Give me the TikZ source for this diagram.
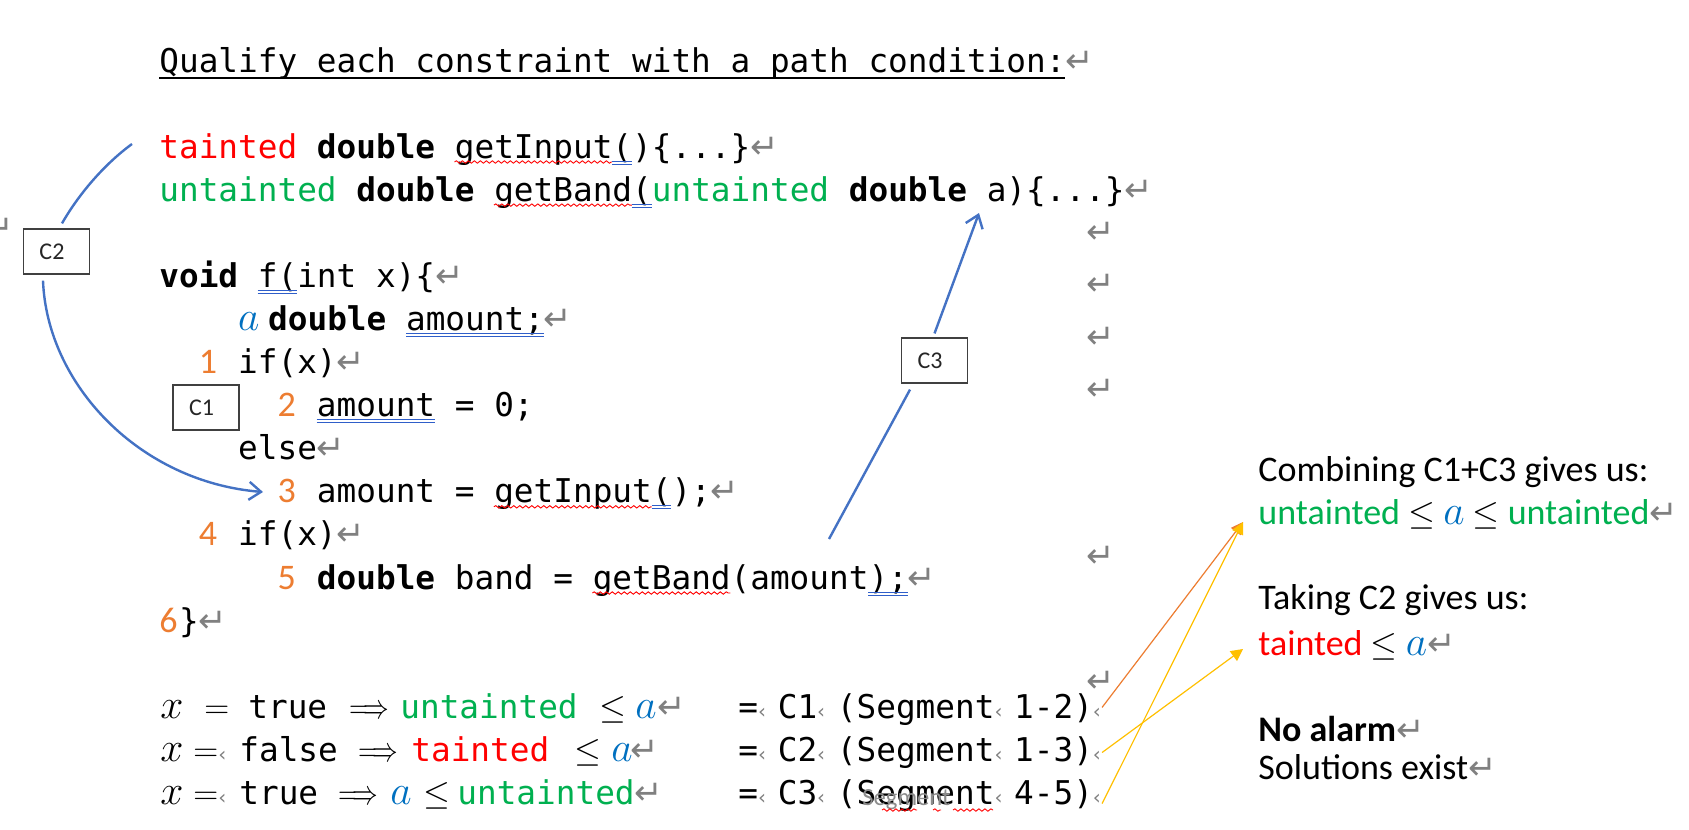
\documentclass[tikz,border=0pt]{standalone}
\usepackage{fontspec}
\usepackage{graphicx}
\usetikzlibrary{arrows.meta, calc, positioning, decorations.pathmorphing}
\setmonofont{DejaVu Sans Mono}
\newfontfamily\calfont{Carlito}
\newfontfamily\symfont{DejaVu Sans}

\definecolor{tred}{HTML}{FF0000}
\definecolor{ugreen}{HTML}{00B050}
\definecolor{varblue}{HTML}{0070C0}
\definecolor{numorange}{HTML}{ED7D31}
\definecolor{linkblue}{HTML}{4472C4}
\definecolor{hintyellow}{HTML}{FFC000}
\definecolor{markgray}{HTML}{808080}
\definecolor{gramblue}{HTML}{2F5EC9}

\newlength\colw \setlength\colw{9.849pt}
\newlength\pxu \setlength\pxu{0.5pt}
\newcommand\codefont{\ttfamily\fontsize{16.36pt}{20pt}\selectfont}
\newcommand\retmark{{\color{markgray}\symfont\fontsize{17pt}{17pt}\selectfont ↵}}
\newcommand\spm{\makebox[\colw][l]{\color{markgray}\symfont\fontsize{10pt}{10pt}\selectfont ‹}}
\newcommand\lnum[1]{\makebox[\colw][l]{\color{numorange}\calfont\fontsize{18pt}{18pt}\selectfont #1}}
\newcommand\ind[1]{\hspace*{#1\colw}}
\newcommand\putat[2]{\rlap{\hspace*{#1\pxu}#2}}
\newcommand\impl{\scalebox{0.74}[1]{$\Longrightarrow$}}
\newcommand\va{{\color{varblue}\fontsize{20.74pt}{20pt}\selectfont$a$}}
\newcommand\vx{{\fontsize{20.74pt}{20pt}\selectfont$x$}}
\newcommand\wavy[3]{\draw[squig] ({159+19.7*#1},{#3+4}) -- ({159+19.7*#2},{#3+4});}
\newcommand\dblu[3]{\draw[gramline] ({159+19.7*#1},{#3+3}) -- ({159+19.7*#2},{#3+3}) ({159+19.7*#1},{#3+6}) -- ({159+19.7*#2},{#3+6});}

\tikzset{
  code/.style={anchor=base west, inner sep=0pt, font=\codefont},
  rtext/.style={anchor=base west, inner sep=0pt, font=\calfont\fontsize{18pt}{20pt}\selectfont},
  cbox/.style={draw=black!75, line width=0.6pt, fill=white, minimum height=22.5pt,
    text width=17pt, inner xsep=8pt, inner ysep=0pt, align=left,
    font=\calfont\fontsize{12pt}{12pt}\selectfont, text=black!85},
  link/.style={draw=linkblue, line width=1.2pt},
  barb/.style={-{Straight Barb[length=6pt,width=9pt]}},
  hint/.style={line width=0.6pt, -{Triangle[length=6pt,width=6pt]}},
  squig/.style={draw=red, line width=0.45pt, decorate,
    decoration={snake, amplitude=0.6pt, segment length=3pt}},
  gramline/.style={draw=gramblue, line width=0.45pt},
  parmark/.style={inner sep=0pt}
}

\begin{document}
\begin{tikzpicture}[x=0.5pt, y=-0.5pt]
    \path[use as bounding box, fill=white] (0,0) rectangle (1689,829);

    % title
    \node[code] (title) at (159,73) {Qualify each constraint with a path condition:\retmark};
    \draw[line width=1pt] ([yshift=-2.5pt]title.base west) -- ++(906,0);

    % declarations
    \node[code] (l1) at (159,158) {{\color{tred}tainted} \textbf{double} getInput()\{...\}\retmark};
    \node[code] (l2) at (159,201.1) {{\color{ugreen}untainted} \textbf{double} getBand({\color{ugreen}untainted} \textbf{double} a)\{...\}\retmark};
    \wavy{15}{23}{158} \dblu{23}{24}{158}
    \wavy{17}{24}{201.1} \dblu{24}{25}{201.1}

    % function body
    \node[code] (l3) at (159,287.3) {\textbf{void} f(int x)\{\retmark};
    \node[code] (l4) at (159,330.4) {\ind{4}\makebox[15pt][l]{\va}\textbf{double} amount;\retmark};
    \node[code] (l5) at (159,373.5) {\ind{2}\lnum{1} if(x)\retmark};
    \node[code] (l6) at (159,416.6) {\ind{6}\lnum{2} amount = 0;};
    \node[code] (l7) at (159,459.7) {\ind{4}else\retmark};
    \node[code] (l8) at (159,502.8) {\ind{6}\lnum{3} amount = getInput();\retmark};
    \node[code] (l9) at (159,545.9) {\ind{2}\lnum{4} if(x)\retmark};
    \node[code] (l10) at (159,589) {\ind{6}\lnum{5} \textbf{double} band = getBand(amount);\retmark};
    \node[code] (l11) at (159,632.1) {\lnum{6}\}\retmark};
    \dblu{5}{7}{287.3}
    \dblu{12.54}{19.54}{330.4}
    \dblu{8}{14}{416.6}
    \wavy{17}{25}{502.8} \dblu{25}{26}{502.8}
    \wavy{22}{29}{589} \dblu{36}{38}{589}

    % path conditions
    \node[code] (eq1) at (159,718.3) {\putat{0}{\vx}\putat{44}{$=$}\putat{88}{true}\putat{189}{\impl}\putat{240}{\color{ugreen}untainted}\putat{439}{$\leq$}\putat{475}{\va}\putat{497}{\retmark}};
    \node[code] (eq2) at (159,761.4) {\putat{0}{\vx}\putat{33}{$=$}\putat{58}{\spm}\putat{79}{false}\putat{198}{\impl}\putat{251}{\color{tred}tainted}\putat{414}{$\leq$}\putat{451}{\va}\putat{470}{\retmark}};
    \node[code] (eq3) at (159,804.5) {\putat{0}{\vx}\putat{33}{$=$}\putat{58}{\spm}\putat{79}{true}\putat{178}{\impl}\putat{230}{\va}\putat{263}{$\leq$}\putat{297}{\color{ugreen}untainted}\putat{474}{\retmark}};
    \node[code] (seg1) at (738,718.3) {=\spm C1\spm (Segment\spm 1-2)\spm};
    \node[code] (seg2) at (738,761.4) {=\spm C2\spm (Segment\spm 1-3)\spm};
    \node[code] (seg3) at (738,804.5) {=\spm C3\spm (Segment\spm 4-5)\spm};
    \node[anchor=base west, inner sep=0pt, font=\calfont\fontsize{12.3pt}{13pt}\selectfont, text=black!45] (ghost) at (862,805) {Segment};
    \draw[squig] (882,810) -- (917,810);
    \draw[squig] (933,810) -- (941,810);
    \draw[squig] (953,810) -- (993,810);

    % stray paragraph marks
    \node[parmark] (rm1) at (1101,233) {\retmark};
    \node[parmark] (rm2) at (1101,285) {\retmark};
    \node[parmark] (rm3) at (1101,338) {\retmark};
    \node[parmark] (rm4) at (1101,390) {\retmark};
    \node[parmark] (rm5) at (1101,557) {\retmark};
    \node[parmark] (rm6) at (1101,682) {\retmark};
    \node[parmark] (rm0) at (0,229) {\retmark};

    % conclusions
    \node[rtext] (r1) at (1258,481) {Combining C1+C3 gives us:};
    \node[rtext] (r2) at (1258,524) {{\color{ugreen}untainted} $\leq$ \va{} $\leq$ {\color{ugreen}untainted}\retmark};
    \node[rtext] (r3) at (1258,609) {Taking C2 gives us:};
    \node[rtext] (r4) at (1258,655) {{\color{tred}tainted} $\leq$ \va\retmark};
    \node[rtext] (r5) at (1258,741) {\textbf{No alarm}\retmark};
    \node[rtext] (r6) at (1258,779) {Solutions exist\retmark};

    % constraint boxes
    \node[cbox] (C1) at (206,407.5) {C1};
    \node[cbox] (C2) at (56.5,251.5) {C2};
    \node[cbox] (C3) at (934.5,360.5) {C3};

    % constraint links
    \coordinate (c2from) at (132,144);
    \coordinate (c2to) at (263,492);
    \coordinate (c3from) at (829,539);
    \coordinate (c3to) at (979,213);
    \draw[link] (c2from) .. controls (106,163) and (80,192) .. ([shift={(5.5,-5)}]C2.north);
    \draw[link, barb] ([shift={(-13.5,6)}]C2.south) .. controls (47,385) and (140,482) .. (c2to);
    \draw[link] (c3from) -- ([shift={(-24.5,6)}]C3.south);
    \draw[link, barb] ([shift={(0,-4)}]C3.north) -- (c3to);

    % combination arrows
    \coordinate (tipA) at ([shift={(-15,-2)}]r2.base west);
    \coordinate (tipB) at ([shift={(-15,-6)}]r4.base west);
    \draw[hint, numorange] ([shift={(-11,-2)}]seg1.east) -- (tipA);
    \draw[hint, hintyellow] ([shift={(-11,0)}]seg2.east) -- (tipB);
    \draw[hint, hintyellow] ([shift={(-11,8)}]seg3.east) -- (tipA);
\end{tikzpicture}
\end{document}
